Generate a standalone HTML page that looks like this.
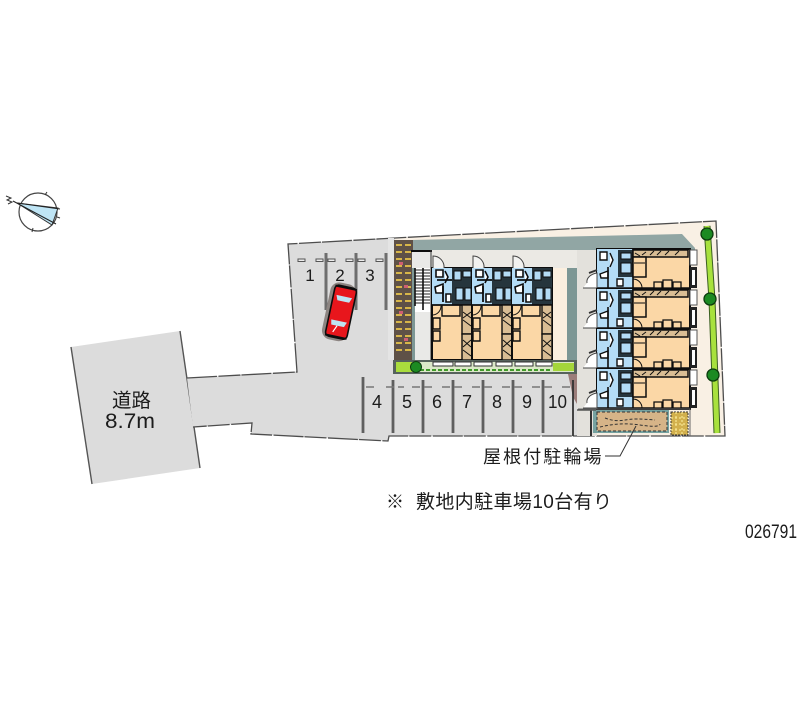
<!DOCTYPE html>
<html lang="ja"><head><meta charset="utf-8"><title>配置図</title>
<style>
html,body{margin:0;padding:0;background:#fff}
svg{display:block}
text{font-family:"Liberation Sans","Noto Sans CJK JP",sans-serif;fill:#1c1c1c}
.b{filter:url(#s)}
</style></head><body>
<svg width="800" height="727" viewBox="0 0 800 727" xmlns="http://www.w3.org/2000/svg">
<defs>
<filter id="s" x="-5%" y="-5%" width="110%" height="110%"><feGaussianBlur stdDeviation="0.35"/></filter>
<g id="v">
<rect x="0" y="0" width="40" height="92" fill="#fbd7a6" stroke="#111" stroke-width="2"/>
<rect x="0" y="0" width="40" height="37" fill="#b4dcf6"/>
<rect x="20" y="0" width="20" height="37" fill="#27353d"/>
<path d="M22 3h7v9h-7zM31 3h8v6h-8zM24 20h7v12h-7zM33 20h6v12h-6z" fill="#b4dcf6" stroke="#111"/>
<path d="M4 2h7v7h-7zM13 3l3 6-3 6M3 19l8-3v9h-7zM14 26h5v8h-5z" fill="#fff" stroke="#111" stroke-width="1.6"/>
<path d="M0 37H40M20 12H5M11 18V34" stroke="#111" stroke-width="1.8" fill="none"/>
<path d="M10 37v11H28V37" fill="none" stroke="#111" stroke-width="1.4"/>
<rect x="30" y="37" width="10" height="29" fill="#d9bd94" stroke="#111" stroke-width="1.4"/>
<rect x="30" y="66" width="10" height="26" fill="#d9bd94" stroke="#111" stroke-width="1.4"/>
<path d="M31 44l8 6M39 44l-8 6M31 52l8 6M31 72l8 7M39 72l-8 7M31 82l8 6" stroke="#111"/>
<path d="M1 50h7v11h-7zM1 63h7v10h-7z" fill="#fbd7a6" stroke="#111" stroke-width="1.4"/>
<path d="M1 47a9 9 0 0 0 8-9" fill="none" stroke="#111"/>
</g>
<g id="h">
<rect x="0" y="0" width="93" height="40" fill="#fbd7a6" stroke="#111" stroke-width="2"/>
<rect x="0" y="0" width="36" height="40" fill="#b4dcf6"/>
<rect x="21" y="1" width="15" height="27" fill="#27353d"/>
<path d="M24 4h10v6h-10zM24 14h10v10h-10z" fill="#b4dcf6" stroke="#111"/>
<path d="M3 3h7v8h-7zM13 4l3 7-3 7M3 25l8-3v7h-7zM20 30h6v7h-6z" fill="#fff" stroke="#111" stroke-width="1.4"/>
<path d="M36 0V40M0 39H93M11 18V39" fill="none" stroke="#111" stroke-width="1.6"/>
<rect x="36" y="1" width="55" height="7" fill="#d9bd94" stroke="#111" stroke-width="1.5"/>
<rect x="36" y="8" width="13" height="20" fill="#fbd7a6" stroke="#111" stroke-width="1.5"/>
<path d="M38 4l5 3M45 6l4-3M53 6l4-4M60 6l4-4M68 6l4-4M78 6l4-4M37 14h11" stroke="#111"/>
<path d="M57 33h8v6h-8zM66 31h9v8h-9zM76 33h8v6h-8z" fill="#fbd7a6" stroke="#111" stroke-width="1.3"/>
<path d="M36 30a9 9 0 0 1 9 9" fill="none" stroke="#111"/>
<rect x="93" y="1" width="7" height="15" fill="#fff" stroke="#555"/>
<rect x="93" y="18" width="7" height="21" fill="#222"/>
<rect x="95" y="21" width="3" height="15" fill="#fff"/>
<path d="M-10 34a13 9 0 0 1 10-10v15h-14" fill="#fff" stroke="#444"/>
<path d="M-8 24l8-3" stroke="#333" stroke-width="2"/>
</g>
</defs>

<g class="b">
<!-- road -->
<polygon points="71,347 180,331 200,468 92,484" fill="#dcdcdc"/>
<path d="M71,347 92,484M180,331 200,468" stroke="#555" stroke-width="1.4" fill="none"/>

<!-- lot -->
<polygon points="187,378 297,372 288,244 395,238 716,221 725,436 389,436 388,441 251,434 252,423 193,427" fill="#dcdcdc"/>
<polygon points="395,238 716,221 725,436 577,436 577,360 395,360" fill="#f9f0e4"/>
<path d="M187,378 297,372 288,244 395,238 716,221 725,436 389,436 388,441 251,434 252,423 193,427" fill="none" stroke="#4d4d4d" stroke-width="1.3" stroke-dasharray="30 1.5 22 1"/>

<!-- inner band -->
<polygon points="412,240 682,234 695,248 695,250 412,250" fill="#91a6a4"/>
<rect x="412" y="250" width="180" height="18" fill="#ebe9e4"/>
<rect x="553" y="268" width="14" height="92" fill="#fbefdf"/>
<rect x="567" y="268" width="10" height="92" fill="#7d9795"/>
<rect x="577" y="250" width="20" height="186" fill="#e3e1dc"/>
<rect x="388" y="238" width="6" height="122" fill="#e4e4e4"/>

<!-- brick -->
<rect x="394" y="240" width="19" height="120" fill="#5f5147"/>
<g stroke-width="2" stroke-dasharray="6 3">
<path d="M396 245H411M396 252H411M396 259H411M396 266H411M396 273H411M396 280H411M396 287H411M396 294H411M396 301H411M396 308H411M396 315H411M396 322H411M396 329H411M396 336H411M396 343H411M396 350H411" stroke="#d8b64a"/>
</g>
<g fill="#cf5f72"><rect x="399" y="262" width="4" height="3"/><rect x="404" y="285" width="4" height="3"/><rect x="399" y="311" width="4" height="3"/><rect x="404" y="338" width="4" height="3"/></g>

<!-- stair -->
<rect x="412" y="250" width="20" height="110" fill="#e9e9e7"/>
<path d="M411 251H432" stroke="#111" stroke-width="2"/>
<rect x="412" y="268" width="3" height="92" fill="#7d9795"/>
<rect x="415" y="268" width="17" height="44" fill="#fff"/>
<path d="M415 270H430M415 273H430M415 276H430M415 279H430M415 282H430M415 285H430M415 288H430M415 291H430M415 294H430M415 297H430M415 300H430M415 303H430" stroke="#222"/>
<path d="M423 268V310M415 268V306" stroke="#111" stroke-width="1.6"/>
<path d="M431 250V360" stroke="#333"/>

<!-- top row units -->
<use href="#v" x="432" y="268"/><use href="#v" x="472" y="268"/><use href="#v" x="512" y="268"/>
<path d="M433 268V256a11 11 0 0 1 11 12M473 268V256a11 11 0 0 1 11 12M513 268V256a11 11 0 0 1 11 12" fill="#f2f2f0" stroke="#444"/>

<!-- hedge -->
<rect x="393" y="360" width="184" height="14" fill="#56625c"/>
<rect x="396" y="362" width="178" height="10" fill="#dbe8c8"/>
<rect x="396" y="362" width="16" height="10" fill="#a9dd3c"/>
<path d="M433 366h20v-4h-20zM455 366h16v-4h-16zM474 366h18v-4h-18zM496 366h16v-4h-16zM515 366h18v-4h-18zM536 366h16v-4h-16z" fill="#fff" stroke="#333"/>
<path d="M420 370H552" stroke="#3f9a2c" stroke-width="2" stroke-dasharray="4 2"/>
<circle cx="416" cy="367" r="5.5" fill="#1d8a22" stroke="#0b3b10"/>
<rect x="553" y="363" width="21" height="8" fill="#a4d63b"/>

<!-- right units -->
<use href="#h" x="597" y="249"/><use href="#h" x="597" y="289"/><use href="#h" x="597" y="329"/><use href="#h" x="597" y="369"/>

<!-- bike shelter -->
<rect x="590" y="409" width="2" height="27" fill="#333"/>
<rect x="593" y="410" width="76" height="23" fill="#76a2a0"/>
<rect x="597" y="412" width="70" height="19" fill="#d6b488" stroke="#333" stroke-dasharray="3 2"/>
<path d="M605 418q10 4 20 2t30 0M600 427q20-5 40-2t20-1" fill="none" stroke="#333" stroke-dasharray="3 2"/>
<rect x="671" y="412" width="17" height="23" fill="#d2b04d" stroke="#333" stroke-dasharray="2 1"/>
<path d="M671 418h17M671 424h17M671 430h17M676 412v23M682 412v23" stroke="#fff0a0" stroke-dasharray="2 2"/>
<path d="M578 409H690V436" fill="none" stroke="#666"/>

<!-- right hedge -->
<path d="M707 226 712 300 717 433" stroke="#3a5e20" stroke-width="7" fill="none"/>
<path d="M707 226 712 300 717 433" stroke="#a8e13c" stroke-width="5" fill="none"/>
<g fill="#1f8a24" stroke="#0b3b10" stroke-width="1.3">
<circle cx="707" cy="234" r="6"/><circle cx="710" cy="299" r="6"/><circle cx="713" cy="375" r="6"/>
</g>

<!-- upper parking -->
<g stroke="#6e6e6e" stroke-width="3" fill="none">
<path d="M326 253V310M356 253V310M386 253V310"/>
</g>
<g fill="#eee" stroke="#555" stroke-width="1">
<rect x="298" y="259" width="7" height="2.5"/><rect x="316" y="259" width="7" height="2.5"/><rect x="328" y="259" width="7" height="2.5"/>
<rect x="346" y="259" width="7" height="2.5"/><rect x="358" y="259" width="7" height="2.5"/><rect x="376" y="259" width="7" height="2.5"/>
</g>

<!-- lower parking -->
<polygon points="568,374 577,374 577,404 573,397" fill="#9b7d7a"/>
<g stroke="#5f5f5f" stroke-width="2.8" fill="none">
<path d="M363 377V433M393 380V433M423 380V433M453 380V433M483 380V433M513 380V433M543 380V433"/>
</g>
<path d="M573 380V436" stroke="#333" stroke-width="1.8"/>
<path d="M577 410H596" stroke="#555" stroke-width="1.5"/>
<path d="M366 387h8M386 387h18M412 387h22M442 387h22M472 387h22M502 387h22M532 387h22M562 387h9" stroke="#777" stroke-width="1.6" stroke-dasharray="8 4" fill="none"/>

<!-- car -->
<g transform="translate(340,312) rotate(12)">
<rect x="-14" y="-29" width="26" height="58" rx="9" fill="#8d8582"/>
<rect x="-10" y="-26" width="22" height="52" rx="4" fill="#e8141c" stroke="#111" stroke-width="1.6"/>
<path d="M-7 -16H9L7 -11H-5Z" fill="#bfe3f2"/>
<path d="M-7 9H9L7 14H-6Z" fill="#bfe3f2"/>
<path d="M-3 21 0 14" stroke="#fff" stroke-width="1.2" fill="none"/>
<path d="M-10 -25H12M-10 25H12" stroke="#111" stroke-width="2"/>
</g>

<!-- compass -->
<circle cx="38" cy="212" r="19" fill="#fff" stroke="#444" stroke-width="1.2"/>
<polygon points="17,203 58,208 52,225" fill="#bfe5f5" stroke="#333"/>
<path d="M13 201 56 224M17 203 60 209" stroke="#222" fill="none"/>
<path d="M47 192l-2 3M32 232l1-4M57 217l3 1" stroke="#333"/>
<path d="M6 196l5 2-4 2 5 2-4 2" stroke="#333" fill="none"/>

<!-- leader -->
<path d="M605 456H620L636 426" stroke="#333" fill="none"/>
</g>

<text x="112" y="407" font-size="19.5">道路</text>
<text x="105" y="428" font-size="21" textLength="50" lengthAdjust="spacingAndGlyphs">8.7m</text>
<g font-size="18" text-anchor="middle">
<text x="310" y="281" font-size="17">1</text><text x="340" y="281" font-size="17">2</text><text x="370" y="281" font-size="17">3</text>
<text x="377" y="408">4</text><text x="407" y="408">5</text><text x="437" y="408">6</text><text x="467" y="408">7</text><text x="497" y="408">8</text><text x="527" y="408">9</text>
</g>
<text x="548" y="408" font-size="18" textLength="19" lengthAdjust="spacingAndGlyphs">10</text>
<text x="483" y="463" font-size="18" letter-spacing="2.1">屋根付駐輪場</text>
<text x="386" y="508" font-size="18">※</text>
<text x="416" y="508" font-size="19" textLength="196">敷地内駐車場10台有り</text>
<text x="745" y="538" font-size="19" textLength="52" lengthAdjust="spacingAndGlyphs">026791</text>
</svg>
</body></html>
